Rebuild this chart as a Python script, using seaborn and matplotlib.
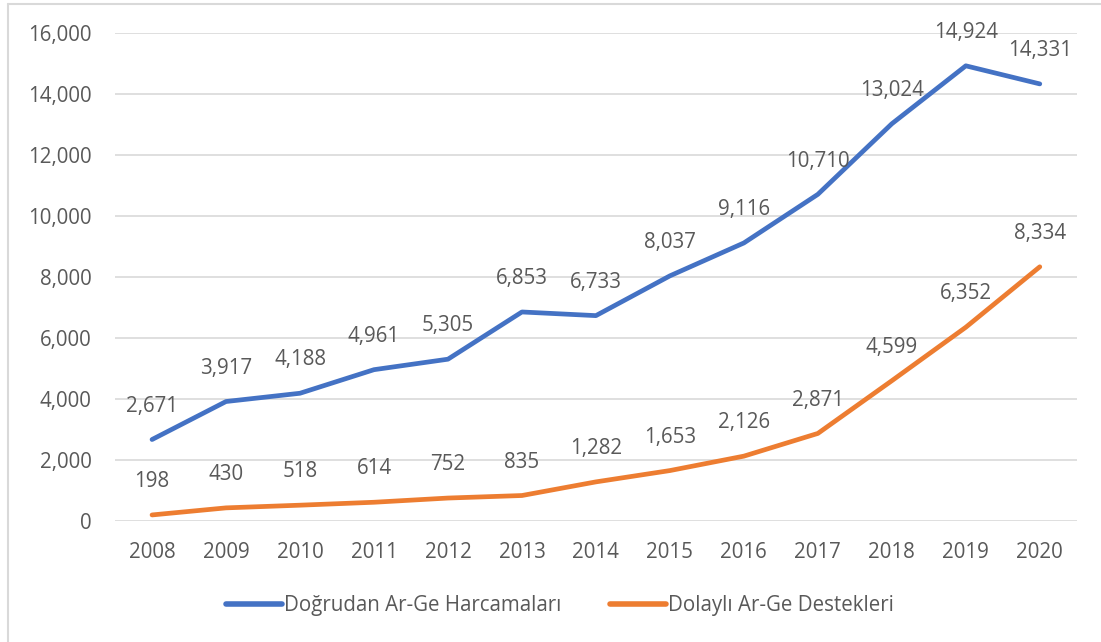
import matplotlib
matplotlib.use("Agg")
import matplotlib.pyplot as plt
from matplotlib.lines import Line2D
import pandas as pd
import seaborn as sns

# veriler
years = [2008, 2009, 2010, 2011, 2012, 2013, 2014, 2015, 2016, 2017, 2018, 2019, 2020]
dogrudan = [2671, 3917, 4188, 4961, 5305, 6853, 6733, 8037, 9116, 10710, 13024, 14924, 14331]
dolayli = [198, 430, 518, 614, 752, 835, 1282, 1653, 2126, 2871, 4599, 6352, 8334]
series_names = ["Doğrudan Ar-Ge Harcamaları", "Dolaylı Ar-Ge Destekleri"]
y_ticks = [0, 2000, 4000, 6000, 8000, 10000, 12000, 14000, 16000]

df = pd.DataFrame({
    "yil": [str(y) for y in years] * 2,
    "deger": dogrudan + dolayli,
    "seri": [series_names[0]] * len(years) + [series_names[1]] * len(years),
})

sns.set_theme(style="white")
plt.rcParams["font.family"] = ["Open Sans", "DejaVu Sans"]
text_color = "#595959"
colors = {series_names[0]: "#4472C4", series_names[1]: "#ED7D31"}
fs = 14.8

fig = plt.figure(figsize=(11.01, 6.42), dpi=100)
ax = fig.add_axes([0.1045, 0.1885, 0.8735, 0.7601])

sns.lineplot(data=df, x="yil", y="deger", hue="seri", palette=colors,
             linewidth=3.4, ax=ax, sort=False, legend=True,
             solid_capstyle="round")

ax.set_xlim(-0.5, len(years) - 0.5)
ax.set_ylim(0, 16000)
ax.set_yticks(y_ticks)
ax.set_yticklabels([f"{v:,}" for v in y_ticks])
ax.yaxis.grid(True, color="#d9d9d9", linewidth=1.2)
ax.set_axisbelow(True)
for s in ax.spines.values():
    s.set_visible(False)
ax.tick_params(axis="both", length=0, labelsize=fs, colors=text_color)
ax.tick_params(axis="y", pad=17)
ax.tick_params(axis="x", pad=15)
ax.set_xlabel("")
ax.set_ylabel("")

# veri etiketleri
for vals in (dogrudan, dolayli):
    for i, v in enumerate(vals):
        ax.annotate(f"{v:,}", (i, v), xytext=(0, 24), textcoords="offset points",
                    ha="center", va="center", fontsize=fs, color=text_color)

handles, labels = ax.get_legend_handles_labels()
leg = ax.legend(handles, labels, loc="center", bbox_to_anchor=(0.4626, -0.174),
                ncol=2, frameon=False, fontsize=fs, handlelength=2.7,
                handletextpad=0.1, columnspacing=2.4)
for t in leg.get_texts():
    t.set_color(text_color)
for h in leg.get_lines():
    h.set_linewidth(4.0)

# grafik alanı çerçevesi (sol ve üst)
fig.add_artist(Line2D([8 / 1101, 8 / 1101], [0, 1 - 4 / 642], transform=fig.transFigure,
                      color="#d9d9d9", linewidth=1.5))
fig.add_artist(Line2D([8 / 1101, 1], [1 - 4 / 642, 1 - 4 / 642], transform=fig.transFigure,
                      color="#d9d9d9", linewidth=1.5))

fig.savefig("out.png", dpi=100)
